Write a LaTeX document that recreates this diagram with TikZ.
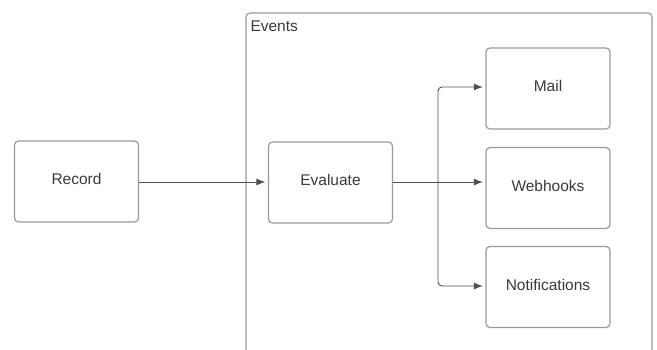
\documentclass[tikz,border=0pt]{standalone}
\usepackage{fontspec}
\setmainfont{Liberation Sans}
\usetikzlibrary{arrows.meta}
\definecolor{boxline}{HTML}{9A9A9A}
\definecolor{wire}{HTML}{505050}
\definecolor{ink}{HTML}{3A3A3A}
% set a label slightly above the middle of its block
\newcommand\liftlabel[1]{\raisebox{5pt}{#1}}
\begin{document}
\begin{tikzpicture}[x=1pt,y=-1pt,
  block/.style={draw=boxline, line width=1.2pt, rounded corners=4pt, fill=white,
    minimum width=124pt, minimum height=81pt, inner sep=0pt,
    font=\fontsize{15.5}{18}\selectfont, text=ink},
  wireline/.style={draw=wire, line width=0.9pt},
  flow/.style={wireline, -{Latex[length=9pt,width=7pt]}, shorten >=2.5pt}]
  \useasboundingbox (0,0) rectangle (657,349);
  % Events container, open at the bottom
  \draw[boxline, line width=1.2pt, rounded corners=4pt]
    (246,352) -- (246,13) -- (652,13) -- (652,352);
  \node[anchor=west, font=\fontsize{15.5}{18}\selectfont, text=ink] (events) at (247,26) {Events};
  % blocks
  \node[block] (record) at (76.5,181.5) {\liftlabel{Record}};
  \node[block] (evaluate) at (330.5,182.5) {\liftlabel{Evaluate}};
  \node[block] (mail) at (548,88.5) {\liftlabel{Mail}};
  \node[block] (webhooks) at (548,188) {\liftlabel{Webhooks}};
  \node[block] (notif) at (548,287) {\liftlabel{Notifications}};
  % fan-out point
  \coordinate (split) at (438,182);
  % connectors
  \draw[flow] (record.east |- 0,182) -- (evaluate.west |- 0,182);
  \draw[wireline] (evaluate.east |- 0,182) -- (split);
  \draw[flow] (split) -- (webhooks.west |- 0,182);
  \draw[flow, rounded corners=4pt] (split) -- (438,87) -- (mail.west |- 0,87);
  \draw[flow, rounded corners=4pt] (split) -- (438,286) -- (notif.west |- 0,286);
\end{tikzpicture}
\end{document}
